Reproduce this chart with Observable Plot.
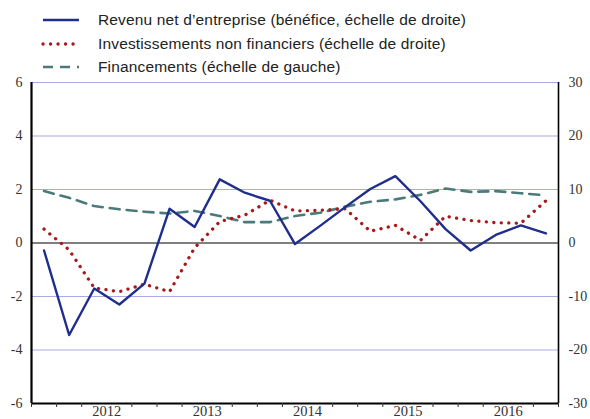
<!DOCTYPE html>
<html>
<head>
<meta charset="utf-8">
<script src="https://cdn.jsdelivr.net/npm/d3@7"></script>
<script src="https://cdn.jsdelivr.net/npm/@observablehq/plot@0.6"></script>
<style>
  html, body { margin: 0; padding: 0; background: #fff; }
  #wrap { width: 590px; height: 419px; position: relative; overflow: hidden; }
  #legend { position: relative; width: 590px; height: 75px; font-family: "Liberation Sans", Arial, sans-serif; font-size: 15.5px; letter-spacing: 0.15px; color: #222; }
  .item { position: absolute; left: 0; height: 20px; display: flex; align-items: center; }
  .item svg { position: absolute; left: 41px; top: 0; }
  .item span { position: absolute; left: 98px; white-space: nowrap; }
</style>
</head>
<body>
<div id="wrap">
  <div id="legend"></div>
  <div id="chart"></div>
</div>
<script>
// ---- data (quarterly, 2011 T4 -> 2016 T4) ----
const quarters = ["2011 T4","2012 T1","2012 T2","2012 T3","2012 T4","2013 T1","2013 T2","2013 T3","2013 T4",
  "2014 T1","2014 T2","2014 T3","2014 T4","2015 T1","2015 T2","2015 T3","2015 T4","2016 T1","2016 T2","2016 T3","2016 T4"];
// right scale
const revenu = [-1.4, -17.2, -8.5, -11.5, -7.6, 6.4, 3.0, 11.9, 9.4, 7.9, -0.2, 3.2, 6.7, 10.1, 12.5, 7.8, 2.6, -1.4, 1.5, 3.3, 1.8];
// right scale
const invest = [2.6, -1.3, -8.4, -9.1, -7.7, -9.1, -0.9, 4.0, 5.2, 8.0, 6.0, 6.1, 6.4, 2.2, 3.3, 0.5, 5.0, 4.2, 3.8, 3.7, 7.9];
// left scale
const financ = [1.94, 1.69, 1.38, 1.26, 1.17, 1.10, 1.20, 1.01, 0.78, 0.78, 1.01, 1.13, 1.36, 1.54, 1.63, 1.80, 2.04, 1.91, 1.94, 1.86, 1.78];
const years = ["2012","2013","2014","2015","2016"];
const leftTicks = [-6, -4, -2, 0, 2, 4, 6];
const rightTicks = [-30, -20, -10, 0, 10, 20, 30];
const seriesNames = [
  "Revenu net d\u2019entreprise (b\u00e9n\u00e9fice, \u00e9chelle de droite)",
  "Investissements non financiers (\u00e9chelle de droite)",
  "Financements (\u00e9chelle de gauche)"
];

const cBlue = "#1f2e8c", cRed = "#a8191c", cTeal = "#4b7a7c", cGrid = "#a9aae2";
const styles = [
  {stroke: cBlue, strokeWidth: 2.4},
  {stroke: cRed, strokeWidth: 3.3, strokeDasharray: "0.1 7.4", strokeLinecap: "round"},
  {stroke: cTeal, strokeWidth: 2.6, strokeDasharray: "10 7"}
];

// ---- legend ----
const legend = document.getElementById("legend");
seriesNames.forEach((name, i) => {
  const div = document.createElement("div");
  div.className = "item";
  div.style.top = (10 + 23.5 * i) + "px";
  const s = styles[i];
  div.innerHTML = `<svg width="40" height="20"><line x1="2" x2="38" y1="10" y2="10" stroke="${s.stroke}" stroke-width="${s.strokeWidth}" ${s.strokeDasharray ? `stroke-dasharray="${s.strokeDasharray}"` : ""} ${s.strokeLinecap ? `stroke-linecap="${s.strokeLinecap}"` : ""}/></svg><span>${name}</span>`;
  legend.appendChild(div);
});

// ---- table ----
const rows = quarters.map((q, i) => ({i, q, year: q.slice(0, 4), revenu: revenu[i], invest: invest[i], financ: financ[i]}));
const xDomain = [-0.5, quarters.length - 0.5];
const boundaries = d3.range(xDomain[0], xDomain[1] + 0.01, 1);
const yearCenters = years.map(y => d3.mean(rows.filter(r => r.year === y), r => r.i));
const yearLabelOf = new Map(yearCenters.map((c, k) => [c, years[k]]));
const serif = "'Liberation Serif', 'Times New Roman', serif";

const chart = Plot.plot({
  width: 590,
  height: 344,
  marginTop: 7,
  marginBottom: 16,
  marginLeft: 31,
  marginRight: 32,
  style: {background: "#fff", overflow: "visible"},
  x: {domain: xDomain, axis: null},
  y: {domain: [-6, 6], axis: null},
  marks: [
    Plot.gridY(leftTicks.filter(t => t !== 0 && t !== -6), {stroke: cGrid, strokeOpacity: 1, strokeWidth: 1.2}),
    Plot.ruleY([0], {stroke: "#000", strokeWidth: 1}),
    Plot.lineY(rows, {x: "i", y: d => d.financ, ...styles[2]}),
    Plot.lineY(rows, {x: "i", y: d => d.invest / 5, ...styles[1]}),
    Plot.lineY(rows, {x: "i", y: d => d.revenu / 5, ...styles[0]}),
    Plot.ruleX([xDomain[0]], {stroke: "#000", strokeWidth: 2.2}),
    Plot.ruleX([xDomain[1]], {stroke: "#000", strokeWidth: 1.6}),
    Plot.ruleY([-6], {stroke: "#000", strokeWidth: 2.2}),
    Plot.axisY(leftTicks, {anchor: "left", label: null, tickSize: 0, tickPadding: 9, fontSize: 14, fontFamily: serif, fill: "#333",
      tickFormat: d => String(d)}),
    Plot.axisY(leftTicks, {anchor: "right", label: null, tickSize: 0, tickPadding: 10, fontSize: 14, fontFamily: serif, fill: "#333",
      tickFormat: d => String(rightTicks[leftTicks.indexOf(d)])}),
    Plot.axisX(boundaries.filter(b => !yearCenters.includes(b)), {anchor: "bottom", label: null, tickSize: 4, tickFormat: () => "", stroke: "#333"}),
    Plot.axisX(yearCenters, {anchor: "bottom", label: null, tickSize: 0, tickPadding: 2, fontSize: 14.5, fontFamily: serif, fill: "#333",
      tickFormat: d => yearLabelOf.get(d)})
  ]
});
document.getElementById("chart").appendChild(chart);
</script>
</body>
</html>
